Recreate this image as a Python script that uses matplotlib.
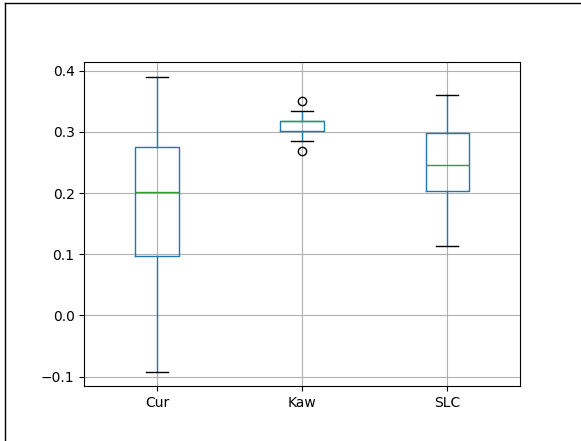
import numpy as np
import matplotlib
matplotlib.use('Agg')
import matplotlib.pyplot as plt
from matplotlib.lines import Line2D

# valori (statistiche dei box)
etichette = ['Cur', 'Kaw', 'SLC']
whisker_bassi = [-0.092, 0.285, 0.113]
q1 = [0.097, 0.302, 0.203]
mediane = [0.201, 0.318, 0.246]
q3 = [0.275, 0.318, 0.298]
whisker_alti = [0.390, 0.334, 0.360]
outliers = [[], [0.351, 0.268], []]

stats = []
for i in range(len(etichette)):
    stats.append({'label': etichette[i], 'whislo': whisker_bassi[i], 'q1': q1[i],
                  'med': mediane[i], 'q3': q3[i], 'whishi': whisker_alti[i],
                  'fliers': np.array(outliers[i])})

fig = plt.figure(figsize=(5.81, 4.41), dpi=100)
W, H = 581, 441
ax = fig.add_axes([84.3/W, 1-386/H, (520-84.3)/W, (386-61.7)/H])

ax.bxp(stats, widths=0.3,
       boxprops=dict(color='#1f77b4'),
       whiskerprops=dict(color='#1f77b4'),
       medianprops=dict(color='#2ca02c'),
       capprops=dict(color='k'),
       flierprops=dict(marker='o', markeredgecolor='k', markerfacecolor='none'))
ax.grid(True)
ax.set_xlim(0.5, 3.5)
ax.set_ylim(-0.1152, 0.4147)
ax.set_yticks([-0.1, 0.0, 0.1, 0.2, 0.3, 0.4])

# bordo della figura (solo sinistra e sopra, come nell'immagine)
fig.add_artist(Line2D([4.5/W, 4.5/W], [0, 1-2.5/H], color='k', lw=1, transform=fig.transFigure))
fig.add_artist(Line2D([4.5/W, 1], [1-2.5/H, 1-2.5/H], color='k', lw=1, transform=fig.transFigure))

fig.savefig('out.png', dpi=100)
